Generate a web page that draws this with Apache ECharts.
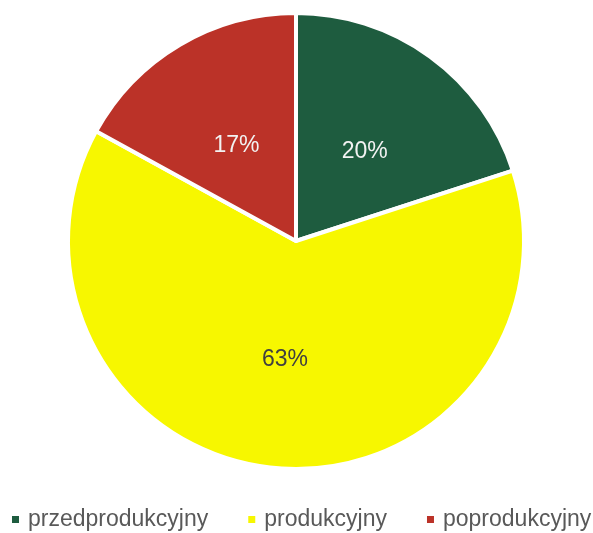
<!DOCTYPE html>
<html><head><meta charset="utf-8">
<script src="https://cdn.jsdelivr.net/npm/echarts@6/dist/echarts.min.js"></script>
<style>html,body{margin:0;padding:0;background:#fff}#c{width:593px;height:533px}</style>
</head><body><div id="c"></div>
<script>
const categories = ['przedprodukcyjny', 'produkcyjny', 'poprodukcyjny'];
const values = [20, 63, 17];
const colors = ['#1e5c3f', '#f7f700', '#bb3228'];
const labelColors = ['#f2f2f2', '#404040', '#f2f2f2'];

const chart = echarts.init(document.getElementById('c'));
chart.setOption({
  animation: false,
  color: colors,
  legend: {
    top: 508,
    left: 10,
    width: 600,
    padding: 0,
    itemWidth: 9,
    itemHeight: 9,
    itemGap: 38,
    icon: 'rect',
    textStyle: { fontFamily: 'Liberation Sans', fontSize: 23, color: '#595959', padding: [0, 0, 0, 3] },
    data: categories
  },
  series: [{
    type: 'pie',
    center: [296, 241],
    radius: [0, 228],
    startAngle: 90,
    clockwise: true,
    itemStyle: { borderColor: '#ffffff', borderWidth: 4 },
    label: {
      position: 'inside',
      formatter: '{c}%',
      fontFamily: 'Liberation Sans',
      fontSize: 23
    },
    labelLine: { show: false },
    data: categories.map((n, i) => ({
      name: n, value: values[i],
      label: { color: labelColors[i], offset: [0, i === 1 ? 2 : 5] }
    }))
  }]
});
</script></body></html>
